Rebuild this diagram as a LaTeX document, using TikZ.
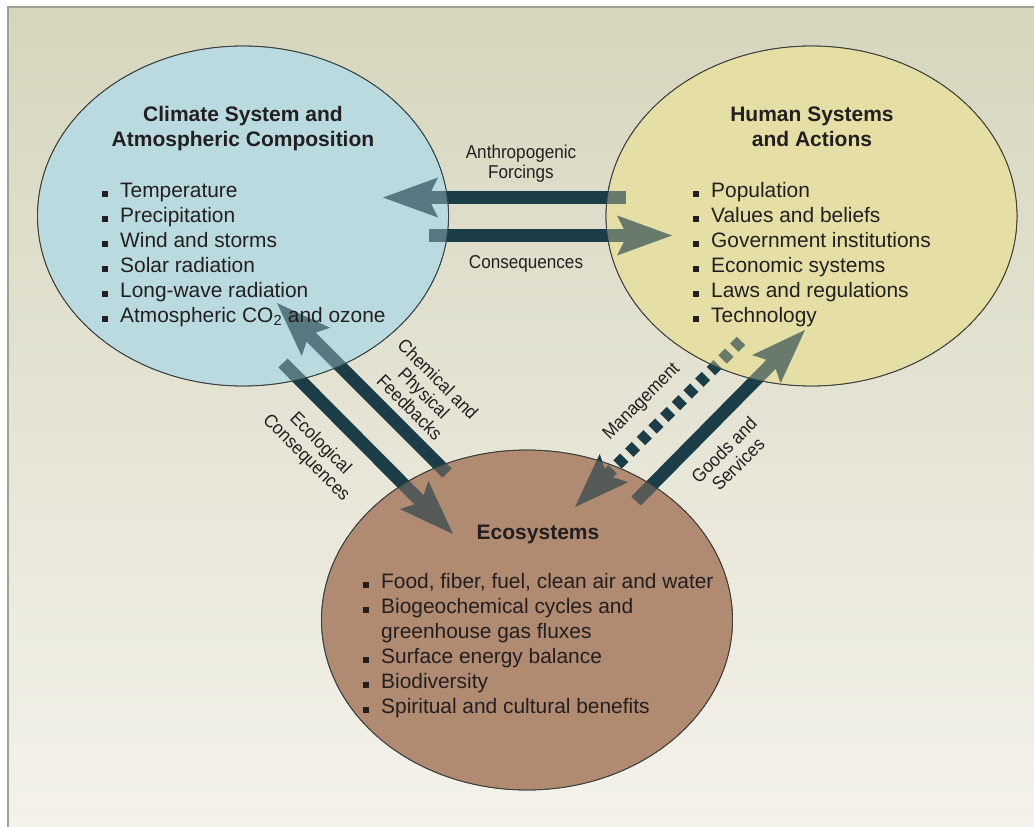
\documentclass[tikz,border=0pt]{standalone}
\usepackage{fontspec}
\setmainfont{Liberation Sans}
\newfontfamily\lblfont[FakeStretch=0.92]{Liberation Sans}
\usetikzlibrary{arrows.meta,shapes.geometric}
\definecolor{bgtop}{RGB}{214,214,190}
\definecolor{bgbot}{RGB}{244,242,234}
\definecolor{framec}{RGB}{160,160,148}
\definecolor{climfill}{RGB}{185,219,223}
\definecolor{humfill}{RGB}{229,223,166}
\definecolor{ecofill}{RGB}{176,138,113}
\definecolor{arrc}{RGB}{27,61,72}
\definecolor{txt}{RGB}{35,31,32}
\definecolor{edge}{RGB}{55,60,60}
\newcommand{\bul}{\makebox[18pt][l]{\rule{6pt}{6pt}}}
\begin{document}
\begin{tikzpicture}[x=1pt,y=-1pt,
  sys/.style={ellipse, draw=edge, line width=0.8pt, minimum width=411pt, minimum height=340pt, inner sep=0pt},
  glass/.style={draw=edge, line width=0.8pt, fill opacity=0.38},
  flow/.style={draw=arrc, line width=13pt, -{Stealth[length=55pt,width=40pt,inset=10pt,line width=0pt]}},
  title/.style={font=\bfseries\fontsize{21}{25}\selectfont, text=txt, inner sep=0pt, anchor=base},
  item/.style={font=\fontsize{20.9}{25}\selectfont, text=txt, inner sep=0pt, anchor=base west},
  lbl/.style={font=\lblfont\fontsize{18.6}{20}\selectfont, text=txt, inner sep=0pt, align=center}
]
\useasboundingbox (0,0) rectangle (1034,827);
\fill[white] (0,0) rectangle (1034,827);
\shade[top color=bgtop, bottom color=bgbot] (8,7) rectangle (1034,827);
\draw[framec, line width=2.5pt] (8,827) -- (8,7) -- (1034,7);

% systems
\node[sys, fill=climfill] (clim) at (243,216) {};
\node[sys, fill=humfill] (hum) at (811.5,216) {};
\node[sys, fill=ecofill] (eco) at (527,620) {};

% connector end points
\coordinate (afS) at (626,197.5);  \coordinate (afE) at (383,197.5);
\coordinate (coS) at (429,235.5);  \coordinate (coE) at (672,235.5);
\coordinate (cfS) at (447,473);    \coordinate (cfE) at (277,303);
\coordinate (ecS) at (283,363);    \coordinate (ecE) at (453,534);
\coordinate (gsS) at (636,501);    \coordinate (gsE) at (805,330);
\coordinate (mgS) at (741,341);    \coordinate (mgE) at (575,507);

\draw[flow] (afS) -- (afE);
\draw[flow] (coS) -- (coE);
\draw[flow] (cfS) -- (cfE);
\draw[flow] (ecS) -- (ecE);
\draw[flow] (gsS) -- (gsE);
\draw[flow, line width=12pt, dash pattern=on 9.5pt off 7pt] (mgS) -- (mgE);

% translucent overlay of the systems over the arrows
\draw[glass, fill=climfill] (clim.center) ellipse [x radius=205.5pt, y radius=170pt];
\draw[glass, fill=humfill] (hum.center) ellipse [x radius=205.5pt, y radius=170pt];
\draw[glass, fill=ecofill] (eco.center) ellipse [x radius=205.5pt, y radius=170pt];

% titles
\node[title] (climT1) at (243,121) {Climate System and};
\node[title] (climT2) at (243,146) {Atmospheric Composition};
\node[title] (humT1) at (812,121) {Human Systems};
\node[title] (humT2) at (812,146) {and Actions};
\node[title] (ecoT) at (538,539) {Ecosystems};

% lists
\foreach \t [count=\i from 0] in {Temperature,Precipitation,Wind and storms,Solar radiation,Long-wave radiation,{Atmospheric CO\textsubscript{2} and ozone}}
  \node[item] (climI\i) at (102,{197+25*\i}) {\bul\t};
\foreach \t [count=\i from 0] in {Population,Values and beliefs,Government institutions,Economic systems,Laws and regulations,Technology}
  \node[item] (humI\i) at (693,{197+25*\i}) {\bul\t};
\node[item] (ecoI0) at (363,588) {\bul Food, fiber, fuel, clean air and water};
\node[item] (ecoI1) at (363,613) {\bul Biogeochemical cycles and};
\node[item] (ecoI1b) at (381,638) {greenhouse gas fluxes};
\node[item] (ecoI2) at (363,663) {\bul Surface energy balance};
\node[item] (ecoI3) at (363,688) {\bul Biodiversity};
\node[item] (ecoI4) at (363,713) {\bul Spiritual and cultural benefits};

% connector labels
\node[lbl] (afL) at (521,163.5) {Anthropogenic\\Forcings};
\node[lbl, anchor=base] (coL) at (526,268) {Consequences};
\node[lbl, rotate=-45] (cfL) at (424,393) {Chemical and\\Physical\\Feedbacks};
\node[lbl, rotate=-45] (ecL) at (313,451) {Ecological\\Consequences};
\node[lbl, rotate=45] (mgL) at (642,402) {Management};
\node[lbl, rotate=45] (gsL) at (731,457) {Goods and\\Services};
\end{tikzpicture}
\end{document}
